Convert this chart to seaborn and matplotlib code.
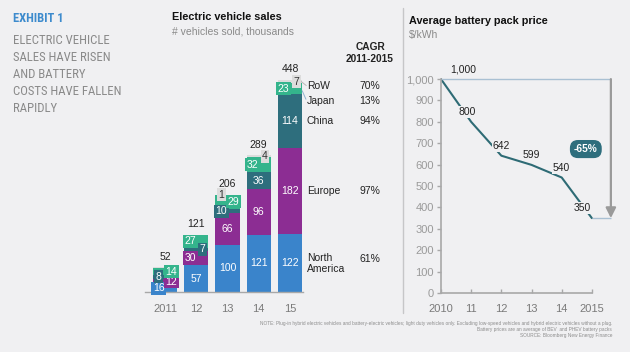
import matplotlib.pyplot as plt
import matplotlib.transforms as mtransforms
from matplotlib.lines import Line2D
import seaborn as sns

# ----------------------------------------------------------
# Data read off the exhibit
# ----------------------------------------------------------
years = ["2011", "12", "13", "14", "15"]
north_america = [16, 57, 100, 121, 122]
europe = [12, 30, 66, 96, 182]
china = [8, 7, 10, 36, 114]
japan = [14, 27, 29, 32, 23]
rest_of_world = [2, 0, 1, 4, 7]
row_labelled = [False, False, True, True, True]
totals = [52, 121, 206, 289, 448]

regions = ["North\nAmerica", "Europe", "China", "Japan", "RoW"]
cagr = ["61%", "97%", "94%", "13%", "70%"]

price_years = [2010, 2011, 2012, 2013, 2014, 2015]
price_tick_labels = ["2010", "11", "12", "13", "14", "2015"]
prices = [1000, 800, 642, 599, 540, 350]
price_drop = "-65%"

# ----------------------------------------------------------
# Style
# ----------------------------------------------------------
BG = "#f0f0f2"
seg_colors = ["#3a84cb", "#8c2d93", "#2e6e7d", "#34b48c", "#dcdcdc"]
LINE_COLOR = "#2e6b75"
GRAY_TXT = "#8a8a8a"
AXIS_GRAY = "#a8a8a8"

sns.set_theme(style="white")
plt.rcParams["font.family"] = ["Liberation Sans", "DejaVu Sans"]
plt.rcParams["axes.facecolor"] = BG

fig = plt.figure(figsize=(6.3, 3.52), dpi=100, facecolor=BG)


def fx(px):
    return px / 630


def fy(py):
    return 1 - py / 352


# ----------------------------------------------------------
# Left text panel + titles
# ----------------------------------------------------------
narrow = ["Roboto Condensed", "Roboto", "DejaVu Sans"]
fig.text(fx(13), fy(18), "EXHIBIT 1", family=narrow, fontsize=9, fontweight="bold",
         color="#3d8bcd", va="center")
fig.text(fx(13), fy(34.5), "ELECTRIC VEHICLE\nSALES HAVE RISEN\nAND BATTERY\nCOSTS HAVE FALLEN\nRAPIDLY",
         family=narrow, fontsize=9.2, color=GRAY_TXT, va="top", linespacing=1.38)

fig.text(fx(172), fy(17), "Electric vehicle sales", fontsize=7.8, fontweight="bold",
         color="#111111", va="center")
fig.text(fx(172), fy(31), "# vehicles sold, thousands", fontsize=7.5, color=GRAY_TXT, va="center")

fig.text(fx(409), fy(21), "Average battery pack price", fontsize=7.8, fontweight="bold",
         color="#111111", va="center")
fig.text(fx(409), fy(35), "$/kWh", fontsize=7.5, color=GRAY_TXT, va="center")

fig.text(fx(370), fy(53), "CAGR\n2011-2015", fontsize=7.3, fontweight="bold", color="#222222",
         ha="center", va="center", linespacing=1.25)

fig.add_artist(Line2D([fx(403), fx(403)], [fy(8), fy(313)], color="#c6c6c8", lw=1))

fig.text(fx(612), fy(321),
         "NOTE: Plug-in hybrid electric vehicles and battery-electric vehicles; light duty vehicles only. "
         "Excluding low-speed vehicles and hybrid electric vehicles without a plug.\n"
         "Battery prices are an average of BEV  and PHEV battery packs\n"
         "SOURCE: Bloomberg New Energy Finance",
         fontsize=3.4, color="#8c8c8c", ha="right", va="top", multialignment="right", linespacing=1.25)

# ----------------------------------------------------------
# Stacked bars: EV sales
# ----------------------------------------------------------
ax1 = fig.add_axes([fx(145), fy(292), (303 - 145) / 630, 236.5 / 352])
layers = [north_america, europe, china, japan, rest_of_world]
bottom = [0] * len(years)
for vals, col in zip(layers, seg_colors):
    sns.barplot(x=years, y=vals, bottom=bottom, color=col, width=0.77, saturation=1,
                errorbar=None, linewidth=0, ax=ax1)
    bottom = [b + v for b, v in zip(bottom, vals)]

ax1.set_xlim(-0.64, 4.416)
ax1.set_ylim(0, 500)
for side in ["top", "right", "left"]:
    ax1.spines[side].set_visible(False)
ax1.spines["bottom"].set_color(AXIS_GRAY)
ax1.spines["bottom"].set_linewidth(1)
ax1.set_yticks([])
ax1.tick_params(axis="x", length=0, pad=9, labelsize=8, labelcolor="#7a7a7a")
ax1.set_xlabel("")
ax1.set_ylabel("")

for i in range(len(years)):
    cum = 0
    n_small = 0
    for s, vals in enumerate(layers):
        v = vals[i]
        mid = cum + v / 2
        cum += v
        if v == 0 or (s == 4 and not row_labelled[i]):
            continue
        if v >= 35:
            ax1.text(i, mid, str(v), color="white", fontsize=7.5, ha="center", va="center")
        else:
            dx = -0.2 if n_small % 2 == 0 else 0.2
            n_small += 1
            txt_col = "#333333" if s == 4 else "white"
            ax1.text(i + dx, mid, str(v), color=txt_col, fontsize=7.5, ha="center", va="center",
                     bbox=dict(boxstyle="square,pad=0.15", fc=seg_colors[s], ec="none"), clip_on=False)
    ax1.text(i, totals[i] + 12, str(totals[i]), color="#222222", fontsize=7.5,
             ha="center", va="bottom")

# region names and CAGR beside the last bar
last = len(years) - 1
mids = []
cum = 0
for vals in layers:
    mids.append(cum + vals[last] / 2)
    cum += vals[last]
name_shift = [0, 0, 0, -8.5, -3]  # points, to spread Japan/RoW apart
cagr_tr = mtransforms.blended_transform_factory(fig.transFigure, ax1.transData)
for s, name in enumerate(regions):
    ax1.annotate(name, xy=(last + 0.54, mids[s]), xytext=(0, name_shift[s]),
                 textcoords="offset points", fontsize=7.5, color="#222222",
                 ha="left", va="center", linespacing=1.1, annotation_clip=False)
    ax1.annotate(cagr[s], xy=(fx(370), mids[s]), xycoords=cagr_tr,
                 xytext=(0, name_shift[s] + (3 if s == 0 else 0)), textcoords="offset points",
                 fontsize=7.5, color="#222222", ha="center", va="center", annotation_clip=False)

# leader lines for the two thin segments
ax1.plot([last + 0.33, last + 0.52], [mids[4] + 2, mids[4] - 8], color="#b8b8b8", lw=0.7, clip_on=False)
ax1.plot([last + 0.39, last + 0.51], [mids[3] - 4, mids[3] - 22], color="#8fb3d0", lw=0.7, clip_on=False)

# ----------------------------------------------------------
# Line chart: battery pack price
# ----------------------------------------------------------
ax2 = fig.add_axes([fx(441), fy(293), 175 / 630, (293 - 62) / 352])
sns.lineplot(x=price_years, y=prices, color=LINE_COLOR, lw=1.5, ax=ax2)
ax2.set_xlim(2010, 2015.8)
ax2.set_ylim(0, 1080)
for side in ["top", "right"]:
    ax2.spines[side].set_visible(False)
for side in ["left", "bottom"]:
    ax2.spines[side].set_color(AXIS_GRAY)
    ax2.spines[side].set_linewidth(1.2)
ax2.spines["left"].set_bounds(0, 1000)
ax2.spines["bottom"].set_bounds(price_years[0], price_years[-1])
ax2.set_yticks(range(0, 1001, 100))
ax2.set_yticklabels([f"{t:,}" for t in range(0, 1001, 100)])
ax2.set_xticks(price_years)
ax2.set_xticklabels(price_tick_labels)
ax2.tick_params(axis="y", direction="out", length=3, width=1, color=AXIS_GRAY, pad=2,
                labelsize=8, labelcolor="#9a9a9a", left=True)
ax2.tick_params(axis="x", direction="in", length=3, width=1, color=AXIS_GRAY, pad=8,
                labelsize=8, labelcolor="#7a7a7a", bottom=True)

label_dx = [16, -3, 0, 0, 0, -7]
for yr, p, dx in zip(price_years, prices, label_dx):
    ax2.annotate(f"{p:,}", xy=(yr, p), xytext=(dx, 7), textcoords="offset points",
                 fontsize=7.5, color="#222222", ha="center", va="center",
                 bbox=dict(boxstyle="square,pad=0.1", fc=BG, ec="none"), annotation_clip=False)

x_arrow = price_years[-1] + 0.63
ax2.hlines(prices[0], price_years[0], x_arrow, color="#a9c0d3", lw=1)
ax2.hlines(prices[-1], price_years[-1], x_arrow, color="#a9c0d3", lw=1)
ax2.annotate("", xy=(x_arrow, prices[-1]), xytext=(x_arrow, prices[0]),
             arrowprops=dict(arrowstyle="-|>,head_length=0.5,head_width=0.25", color="#9a9a9a",
                             lw=1.6, shrinkA=0, shrinkB=0), annotation_clip=False)
ax2.text(2014.8, 673, price_drop, color="white", fontsize=7.3, fontweight="bold",
         ha="center", va="center",
         bbox=dict(boxstyle="round,pad=0.4,rounding_size=0.8", fc="#2e6e7d", ec="none"))
ax2.set_xlabel("")
ax2.set_ylabel("")

plt.savefig("out.png", dpi=100, facecolor=BG)
